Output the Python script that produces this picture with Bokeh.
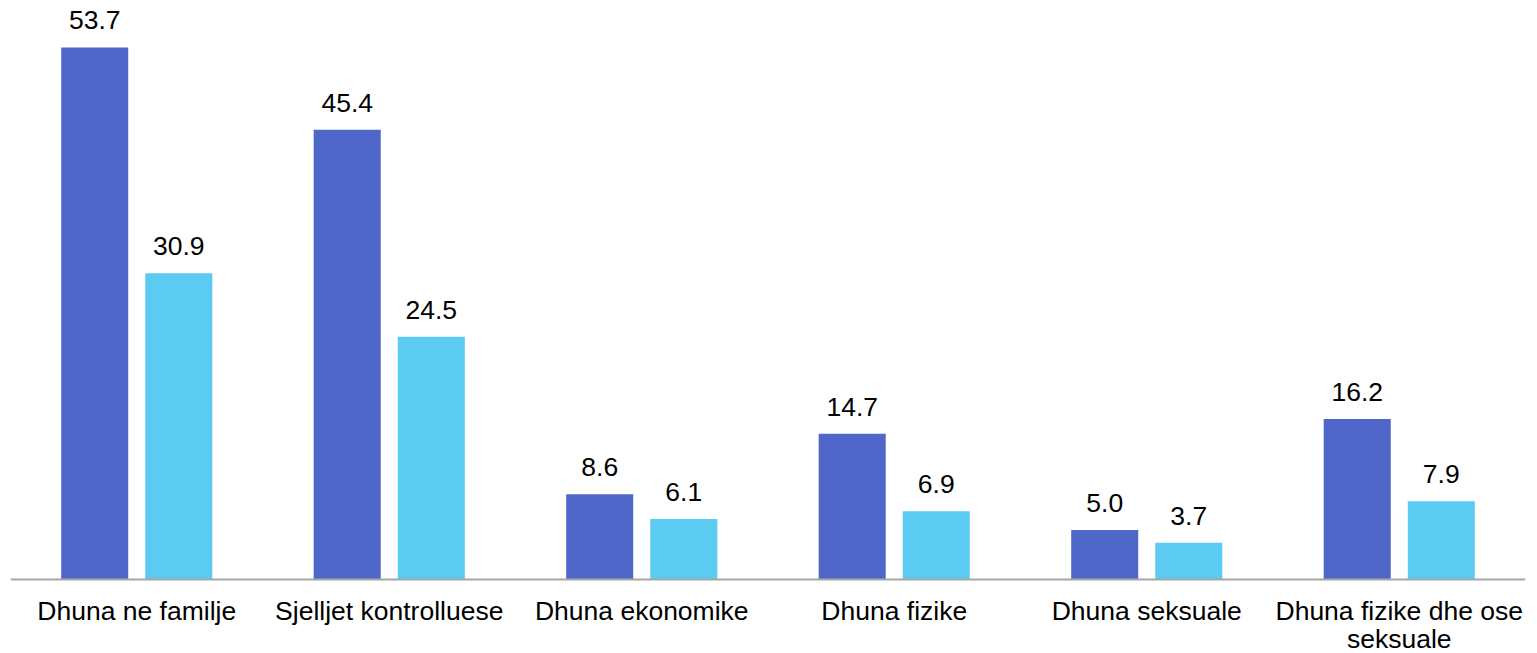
from bokeh.plotting import figure
from bokeh.models import ColumnDataSource, FactorRange, Range1d, Span
from bokeh.transform import dodge
from bokeh.core.properties import value
from bokeh.embed import file_html
from bokeh.resources import INLINE

categories = ["Dhuna ne familje", "Sjelljet kontrolluese", "Dhuna ekonomike",
              "Dhuna fizike", "Dhuna seksuale", "Dhuna fizike dhe ose\nseksuale"]
series_a = [53.7, 45.4, 8.6, 14.7, 5.0, 16.2]
series_b = [30.9, 24.5, 6.1, 6.9, 3.7, 7.9]

src = ColumnDataSource(dict(
    cat=categories,
    a=series_a,
    b=series_b,
    zero=[0] * len(categories),
    a_lbl=[f"{v:.1f}" for v in series_a],
    b_lbl=[f"{v:.1f}" for v in series_b],
))

p = figure(x_range=FactorRange(*categories, range_padding=0),
           y_range=Range1d(-7.47, 58.44),
           width=1535, height=653, output_backend="svg", toolbar_location=None,
           min_border_left=10, min_border_right=10, min_border_top=0, min_border_bottom=0)

dark = "#4F67C9"
light = "#5BCBF2"
off = 0.1665
bw = 0.2655
fs = "26.5px"
font = value("Liberation Sans")

p.vbar(x=dodge("cat", -off, range=p.x_range), top="a", width=bw, source=src,
       fill_color=dark, line_color=None)
p.vbar(x=dodge("cat", off, range=p.x_range), top="b", width=bw, source=src,
       fill_color=light, line_color=None)

p.text(x=dodge("cat", -off, range=p.x_range), y="a", text="a_lbl", source=src,
       text_font=font, text_font_size=fs, text_align="center",
       text_baseline="alphabetic", y_offset=-27, text_color="#000000")
p.text(x=dodge("cat", off, range=p.x_range), y="b", text="b_lbl", source=src,
       text_font=font, text_font_size=fs, text_align="center",
       text_baseline="alphabetic", y_offset=-27, text_color="#000000")

# category axis line and labels
p.add_layout(Span(location=0, dimension="width", line_color="#A6A6A6", line_width=2))
p.text(x="cat", y="zero", text="cat", source=src,
       text_font=font, text_font_size=fs, text_align="center",
       text_baseline="top", y_offset=17, text_line_height=0.92, text_color="#000000")

p.xaxis.visible = False
p.yaxis.visible = False
p.xgrid.visible = False
p.ygrid.visible = False
p.outline_line_color = None

open("out.html", "w").write(file_html(p, INLINE))
